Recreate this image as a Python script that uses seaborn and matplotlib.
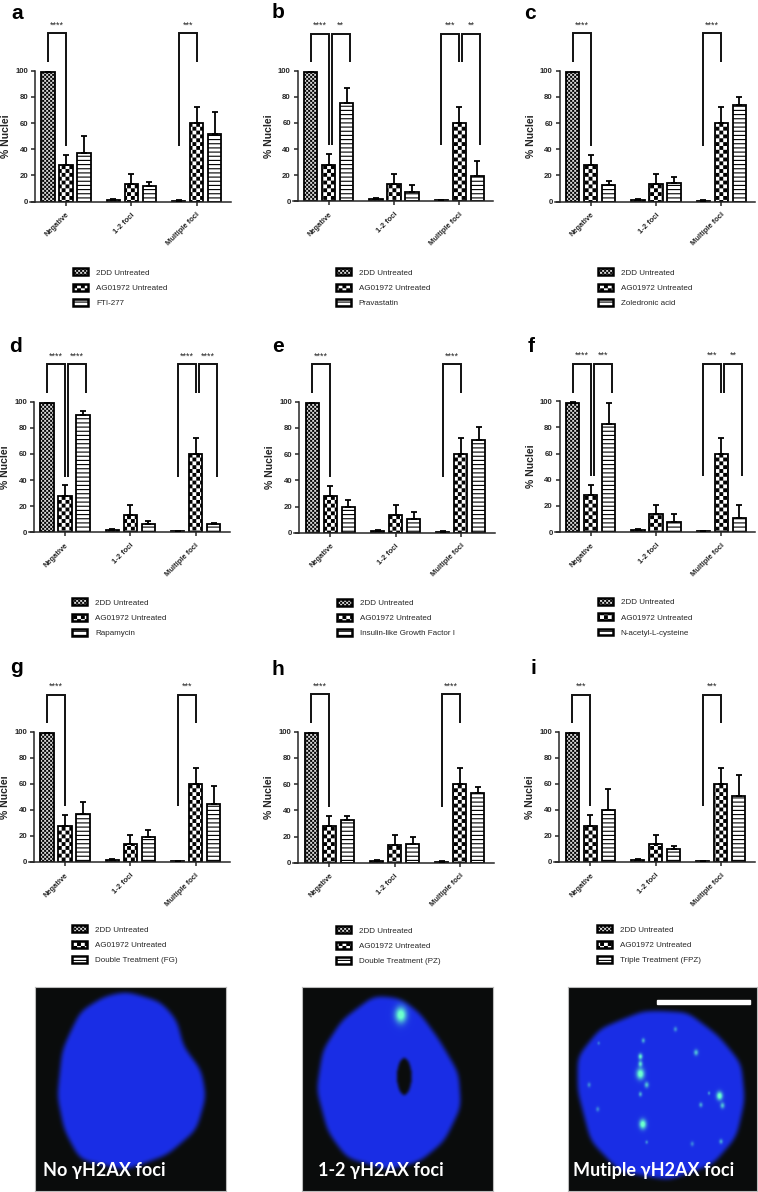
import numpy as np
import pandas as pd
import matplotlib
matplotlib.use("Agg")
import matplotlib.pyplot as plt
import matplotlib.hatch as mhatch
import seaborn as sns
from matplotlib.patches import Patch
from matplotlib.path import Path

# ======================================
# DATA
# ======================================

foci = ["Negative", "1-2 foci", "Multiple foci"]
panel_letters = ["a", "b", "c", "d", "e", "f", "g", "h", "i"]

group_2dd = "2DD Untreated"
group_ag = "AG01972 Untreated"
treatments = [
    "FTI-277", "Pravastatin", "Zoledronic acid",
    "Rapamycin", "Insulin-like Growth Factor I", "N-acetyl-L-cysteine",
    "Double Treatment (FG)", "Double Treatment (PZ)", "Triple Treatment (FPZ)",
]

values_2dd = [99, 1.5, 0.7]
errors_2dd = [0.7, 0.7, 0.3]
values_ag = [28, 13.5, 60]
errors_ag = [8, 7.5, 12]

treatment_values = [
    [37, 12, 52],
    [75, 7, 19.5],
    [13, 14, 74],
    [89.5, 6, 6],
    [20, 10.5, 71],
    [83, 8, 11],
    [37, 19, 44.5],
    [32.5, 14.5, 53.5],
    [40, 10, 51],
]
treatment_errors = [
    [13, 3, 16.5],
    [12, 5.5, 11],
    [3, 4.5, 6],
    [3.5, 3, 0.8],
    [5, 5, 9.5],
    [15.5, 6, 9.5],
    [9, 5.5, 13.5],
    [3, 5, 4.5],
    [16, 2, 15.5],
]

# stars for (2DD vs AG, AG vs treatment) in Negative and Multiple foci
stars_negative = [("****", ""), ("****", "**"), ("****", ""),
                  ("****", "****"), ("****", ""), ("****", "***"),
                  ("****", ""), ("****", ""), ("***", "")]
stars_multiple = [("***", ""), ("***", "**"), ("****", ""),
                  ("****", "****"), ("****", ""), ("***", "**"),
                  ("***", ""), ("****", ""), ("***", "")]

# panel placement in pixels: first bar centre, y of 0, y of 100, legend offset
first_bar_x = [48, 310.7, 572.7, 47, 312.3, 572.7, 47, 311.3, 572.3]
zero_y = [201.7, 201.2, 201.7, 532.3, 532.7, 532, 862, 862.7, 862]
hundred_y = [70.7, 70.7, 70.7, 401.7, 401.7, 401.3, 731.7, 731.7, 731.7]
legend_y = [272.7, 272.7, 272.7, 602.7, 603, 602.5, 929.7, 930.7, 929.7]
letter_x = [11, 271.7, 524, 9.3, 272.3, 527.3, 10, 271.7, 530]
letter_y = [19, 18.5, 19, 352.3, 352, 352, 673, 675, 674]

# ======================================
# STYLE
# ======================================

W, H = 758, 1192

sns.set_style("ticks")
plt.rcParams["font.family"] = ["Liberation Sans", "DejaVu Sans"]
plt.rcParams["hatch.linewidth"] = 0.8


# matplotlib has no checkerboard hatch, so '*' (coarse) and '.' (fine) are swapped for one
class CheckerHatch(mhatch.HatchPatternBase):
    filled = True

    def __init__(self, hatch, density):
        self.cells = 26 * hatch.count("*") + 50 * hatch.count(".")
        self.size = 0.0275 if "*" in hatch else 0.009
        if self.cells:
            self.count = self.cells ** 2 // 2
        else:
            self.count = 0
        self.num_vertices = self.count * 5
        self.num_codes = self.num_vertices

    def set_vertices_and_codes(self, vertices, codes):
        n = 0
        step = 1 / self.cells
        # squares sit off the tile edge, otherwise their stroke is cut there and leaves a seam
        pad = 0.007
        for r in range(self.cells):
            for c in range(self.cells):
                if (r + c) % 2:
                    continue
                x = c * step + pad
                y = r * step + pad
                s = self.size
                vertices[n:n + 5] = [(x, y), (x + s, y), (x + s, y + s), (x, y + s), (x, y)]
                codes[n:n + 5] = [Path.MOVETO, Path.LINETO, Path.LINETO, Path.LINETO, Path.CLOSEPOLY]
                n += 5


mhatch._hatch_types[:] = [mhatch.HorizontalHatch, CheckerHatch]

hatch_styles = [".", "*", "----"]
face_colors = ["#d8d8d8", "white", "white"]

fig = plt.figure(figsize=(W / 100, H / 100), dpi=100)


def px_box(left, top, right, bottom):
    return [left / W, 1 - bottom / H, (right - left) / W, (bottom - top) / H]


def bracket(ax, x1, x2, left_low, star, y0_top=128.5):
    # one significance bracket; the tall leg drops to 42, the short one to 106
    low, high = 42.7, 106.3
    y1 = low if left_low else high
    y2 = high if left_low else low
    ax.plot([x1, x1, x2, x2], [y1, y0_top, y0_top, y2], color="#111111",
            lw=1.4, clip_on=False, solid_joinstyle="miter", solid_capstyle="butt")
    ax.text((x1 + x2) / 2, 135, star, ha="center", va="center", fontsize=6.5,
            color="#222222", clip_on=False)


# ======================================
# BAR PANELS
# ======================================

for i, letter in enumerate(panel_letters):
    x0 = first_bar_x[i]
    cat_px = 65.3
    center0 = x0 + 18
    left = x0 - 13
    right = x0 + 182.7
    ax = fig.add_axes(px_box(left, hundred_y[i], right, zero_y[i]))

    df = pd.DataFrame({
        "focus": foci * 3,
        "group": [group_2dd] * 3 + [group_ag] * 3 + [treatments[i]] * 3,
        "nuclei": values_2dd + values_ag + treatment_values[i],
    })
    all_errors = [errors_2dd, errors_ag, treatment_errors[i]]

    sns.barplot(
        data=df, x="focus", y="nuclei", hue="group", order=foci,
        palette=face_colors, width=0.827, gap=0.27, errorbar=None,
        edgecolor="black", linewidth=1.3, legend=False, ax=ax,
    )

    for container, hatch, errs in zip(ax.containers, hatch_styles, all_errors):
        xs = []
        ys = []
        for bar in container:
            bar.set_hatch(hatch)
            xs.append(bar.get_x() + bar.get_width() / 2)
            ys.append(bar.get_height())
        ax.errorbar(xs, ys, yerr=[np.zeros(3), errs], fmt="none", ecolor="black",
                    elinewidth=1.3, capsize=2.2, capthick=1.3, zorder=3)

    ax.set_xlim((left - center0) / cat_px, (right - center0) / cat_px)
    ax.set_ylim(0, 100)
    ax.set_yticks([0, 20, 40, 60, 80, 100])
    ax.set_xlabel("")
    ax.set_ylabel("% Nuclei", fontsize=7.6, fontweight="bold")
    ax.yaxis.set_label_coords(-24 / (right - left), 0.5)
    sns.despine(ax=ax)
    for side in ["left", "bottom"]:
        ax.spines[side].set_linewidth(1.1)
    ax.spines["bottom"].set_bounds(-0.55, ax.get_xlim()[1])
    ax.tick_params(axis="y", length=3, width=1.1, labelsize=5.6, pad=2)
    ax.tick_params(axis="x", length=3, width=1.1, labelsize=5.4, pad=4)
    for lab in ax.get_yticklabels():
        lab.set_fontweight("bold")
    for lab in ax.get_xticklabels():
        lab.set_fontweight("bold")
        lab.set_rotation(45)
        lab.set_ha("right")
        lab.set_rotation_mode("anchor")

    # brackets, in category units so they follow the bars
    step = 18 / cat_px
    shift = 3 / cat_px
    for cat, stars, first_low in [(0, stars_negative[i], False), (2, stars_multiple[i], True)]:
        bracket(ax, cat - step, cat, first_low, stars[0])
        if stars[1]:
            bracket(ax, cat + shift, cat + step + shift, not first_low, stars[1])

    handles = [
        Patch(facecolor=c, edgecolor="black", hatch=h, linewidth=1.8)
        for c, h in zip(face_colors, hatch_styles)
    ]
    ax.legend(
        handles, [group_2dd, group_ag, treatments[i]],
        loc="center left",
        bbox_to_anchor=((x0 + 25) / W, 1 - (legend_y[i] + 15) / H),
        bbox_transform=fig.transFigure, frameon=False, fontsize=5.8,
        handlelength=1.85, handleheight=0.95, handletextpad=1.0,
        labelspacing=0.86, borderpad=0, borderaxespad=0,
    )

    fig.text(letter_x[i] / W, 1 - letter_y[i] / H, letter, fontsize=15,
             fontweight="bold", color="black", ha="left", va="baseline")

# ======================================
# NUCLEI IMAGES (crop coordinates of the micrographs)
# ======================================

image_boxes = [(35.4, 986.7, 226, 1191), (302, 986.7, 492.5, 1191), (568, 986.7, 757, 1191)]
image_origins = [(73, 110), (623, 110), (1172, 110)]
image_titles = ["No γH2AX foci", "1-2 γH2AX foci", "Mutiple γH2AX foci"]
title_x = [42.7, 317.5, 573.4]

outline_1 = [(260, 125), (330, 155), (365, 210), (378, 290), (415, 360), (425, 440), (405, 540),
             (345, 615), (260, 660), (165, 630), (132, 540), (118, 440), (128, 300), (165, 185), (215, 140)]
outline_2 = [(770, 138), (825, 145), (865, 190), (905, 270), (945, 370), (950, 470), (915, 575),
             (865, 635), (800, 660), (715, 625), (675, 545), (652, 420), (665, 300), (705, 210)]
outline_3 = [(1330, 182), (1420, 187), (1485, 258), (1532, 340), (1540, 450), (1522, 562), (1472, 645),
             (1380, 690), (1278, 665), (1218, 572), (1192, 430), (1192, 318), (1238, 236)]
outlines = [outline_1, outline_2, outline_3]

# x, y, radius, brightness
spots_1 = []
spots_2 = [(826, 195, 13, 1.0)]
spots_3 = [(1322, 320, 5, 0.8), (1322, 342, 5, 0.7), (1322, 372, 9, 1.0), (1335, 405, 5, 0.6),
           (1322, 433, 4, 0.5), (1327, 523, 8, 1.0), (1487, 438, 7, 1.0), (1493, 467, 5, 0.6),
           (1438, 308, 5, 0.6), (1328, 272, 4, 0.5), (1395, 238, 4, 0.4), (1448, 465, 4, 0.5),
           (1490, 575, 4, 0.5), (1233, 478, 4, 0.35), (1215, 405, 4, 0.35), (1430, 582, 4, 0.35),
           (1335, 577, 3, 0.4), (1235, 280, 3, 0.3), (1465, 430, 3, 0.4)]
spots = [spots_1, spots_2, spots_3]


def box_blur(a, n, passes=3):
    kernel = np.ones(n) / n
    for _ in range(passes):
        a = np.apply_along_axis(lambda r: np.convolve(r, kernel, mode="same"), 0, a)
        a = np.apply_along_axis(lambda r: np.convolve(r, kernel, mode="same"), 1, a)
    return a


for k, box in enumerate(image_boxes):
    ox, oy = image_origins[k]
    ax = fig.add_axes(px_box(box[0], box[1], box[2], box[3]))
    px_w = 393
    px_h = 613
    gx, gy = np.meshgrid(np.arange(0, px_w, 2) + ox, np.arange(0, px_h, 3) + oy)
    pts = np.column_stack([gx.ravel(), gy.ravel()])
    mask = Path(outlines[k]).contains_points(pts).reshape(gx.shape).astype(float)
    # round off the polygon corners, then keep a soft edge
    mask = box_blur(mask, 13)
    mask = np.clip((mask - 0.35) / 0.3, 0, 1)
    if k == 1:
        hole = ((gx - 833) / 15) ** 2 + ((gy - 380) / 55) ** 2 < 1
        mask[hole] = 0
    mask = box_blur(mask, 3)

    img = np.zeros(gx.shape + (3,))
    img[..., 0] = 0.04 + 0.06 * mask
    img[..., 1] = 0.05 + 0.13 * mask
    img[..., 2] = 0.05 + 0.85 * mask

    for sx, sy, r, b in spots[k]:
        g = b * np.exp(-((gx - sx) ** 2 / (r * 0.9) ** 2 + (gy - sy) ** 2 / (r * 1.8) ** 2))
        img[..., 0] += 0.35 * g
        img[..., 1] += 0.95 * g
        img[..., 2] += -0.1 * g
    ax.imshow(np.clip(img, 0, 1), aspect="auto", interpolation="bilinear")
    ax.set_xticks([])
    ax.set_yticks([])
    for spine in ax.spines.values():
        spine.set_color("#bbbbbb")
        spine.set_linewidth(0.8)

    fig.text(title_x[k] / W, 1 - 1176 / H, image_titles[k], color="white", fontsize=13,
             family=["Lato", "DejaVu Sans"], fontweight="bold", ha="left", va="baseline")

# scale bar of the third micrograph
fig.patches.append(plt.Rectangle((656.5 / W, 1 - 1003.5 / H), 93.5 / W, 3.5 / H, color="white",
                                 transform=fig.transFigure, zorder=5))

fig.savefig("out.png", dpi=100, facecolor="white")
